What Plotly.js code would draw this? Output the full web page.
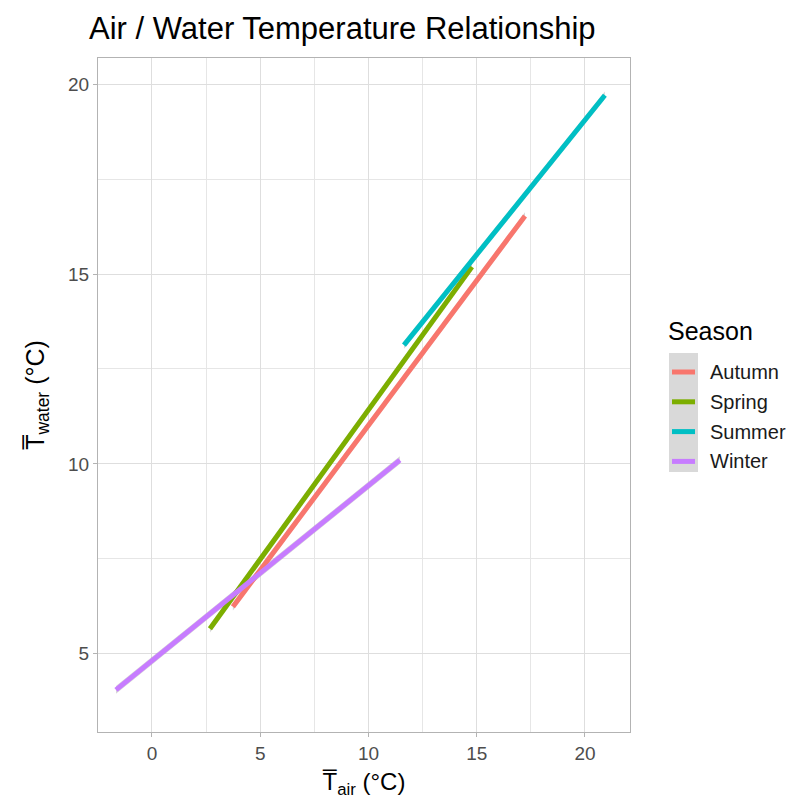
<!DOCTYPE html>
<html><head><meta charset="utf-8">
<script src="https://cdn.plot.ly/plotly-3.0.1.min.js"></script>
<style>body{margin:0;background:#fff}#chart{width:796px;height:802px}</style>
</head><body><div id="chart"></div>
<script>
// Fitted lines per season (start, end)
const seasons = ["Autumn", "Spring", "Summer", "Winter"];
const colors = ["#F8766D", "#7CAE00", "#00BFC4", "#C77CFF"];
const autumnX = [3.74, 17.23];
const autumnY = [6.24, 16.53];
const springX = [2.68, 14.78];
const springY = [5.66, 15.19];
const summerX = [11.64, 20.92];
const summerY = [13.13, 19.71];
const winterX = [-1.66, 11.45];
const winterY = [4.05, 10.10];
const bandSE = [0.10, 0.10]; // half-width of the grey confidence band at the ends

const xs = [autumnX, springX, summerX, winterX];
const ys = [autumnY, springY, summerY, winterY];
const FONT = "Liberation Sans, Arial, sans-serif";

const traces = [];
seasons.forEach((s, i) => {
  const x = xs[i], y = ys[i];
  traces.push({
    x: x.concat(x.slice().reverse()),
    y: y.map((v, k) => v + bandSE[k]).concat(y.map((v, k) => v - bandSE[k]).reverse()),
    type: "scatter", mode: "lines", fill: "toself",
    fillcolor: "rgba(153,153,153,0.4)", line: {width: 0},
    hoverinfo: "skip", showlegend: false
  });
});
seasons.forEach((s, i) => {
  traces.push({
    x: xs[i], y: ys[i], type: "scatter", mode: "lines", name: s,
    line: {color: colors[i], width: 5}, showlegend: false
  });
});

// custom legend (ggplot style)
const shapes = [{
  type: "rect", xref: "paper", yref: "paper",
  x0: (669 - 98) / 532, x1: (698 - 98) / 532,
  y0: (732 - 472) / 674, y1: (732 - 353) / 674,
  fillcolor: "#D9D9D9", line: {width: 0}, layer: "above"
}];
const annotations = [{
  text: "Season", xref: "paper", yref: "paper",
  x: (666 - 98) / 532, y: (732 - 331) / 674, xanchor: "left", yanchor: "middle",
  showarrow: false, font: {size: 25, color: "#000", family: FONT}
}];
seasons.forEach((s, i) => {
  const py = 372 + i * 29.8;
  const yp = (732 - py) / 674;
  shapes.push({
    type: "line", xref: "paper", yref: "paper",
    x0: (672 - 98) / 532, x1: (695 - 98) / 532, y0: yp, y1: yp,
    line: {color: colors[i], width: 5}, layer: "above"
  });
  annotations.push({
    text: s, xref: "paper", yref: "paper",
    x: (708 - 98) / 532, y: yp, xanchor: "left", yanchor: "middle",
    showarrow: false, font: {size: 20, color: "#1a1a1a", family: FONT}
  });
});

const axisCommon = {
  showline: true, linecolor: "#B3B3B3", linewidth: 1, mirror: true,
  gridcolor: "#DEDEDE", gridwidth: 1, zeroline: false,
  ticks: "outside", ticklen: 4, tickcolor: "#B3B3B3", tickwidth: 1,
  tickfont: {size: 19, color: "#4D4D4D", family: FONT},
  dtick: 5, automargin: false
};

const layout = {
  width: 796, height: 802,
  margin: {l: 98, r: 166, t: 58, b: 70},
  paper_bgcolor: "#fff", plot_bgcolor: "#fff",
  title: {text: "Air / Water Temperature Relationship", x: 89 / 796, xanchor: "left", y: 1 - 28 / 802, yanchor: "middle",
    font: {size: 31, color: "#000", family: FONT}},
  xaxis: Object.assign({}, axisCommon, {
    range: [-2.49, 22.08], tick0: 0,
    minor: {dtick: 2.5, tick0: 0, showgrid: true, gridcolor: "#E6E6E6", gridwidth: 1, ticks: ""},
    title: {text: "T\u0305<sub>air</sub> (°C)", standoff: 10,
      font: {size: 24, color: "#000", family: FONT}}
  }),
  yaxis: Object.assign({}, axisCommon, {
    range: [2.94, 20.69], tick0: 0,
    minor: {dtick: 2.5, tick0: 0, showgrid: true, gridcolor: "#E6E6E6", gridwidth: 1, ticks: ""},
    title: {text: "T\u0305<sub>water</sub> (°C)", standoff: 16,
      font: {size: 25, color: "#000", family: FONT}}
  }),
  shapes: shapes, annotations: annotations, showlegend: false
};

Plotly.newPlot("chart", traces, layout, {displayModeBar: false, staticPlot: true});
</script></body></html>
